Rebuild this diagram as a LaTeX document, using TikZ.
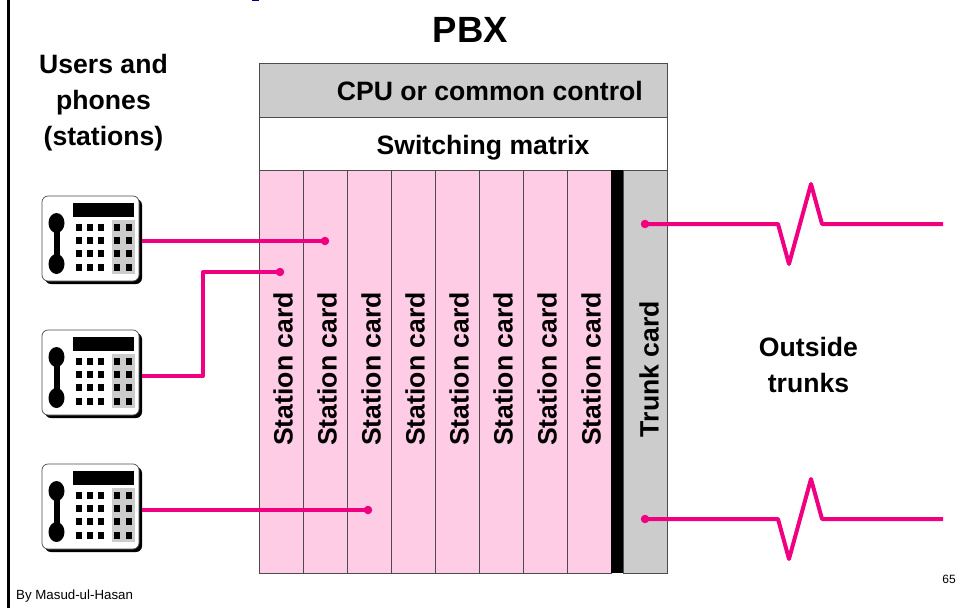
\documentclass[tikz,border=0pt]{standalone}
\usepackage{fontspec}
\setmainfont{Liberation Sans}
\definecolor{wire}{RGB}{240,0,128}
\definecolor{cardpink}{RGB}{255,204,230}
\definecolor{panel}{RGB}{204,204,204}
\tikzset{
  x=1pt,y=-1pt,
  box/.style={draw=black!70,line width=0.8pt,minimum width=0pt,inner sep=0pt},
  cardbox/.style={box,fill=cardpink,anchor=north west,minimum width=44pt,minimum height=403pt},
  cardlabel/.style={rotate=90,font=\bfseries\fontsize{26.6}{30}\selectfont,inner sep=0pt},
  title/.style={font=\bfseries\fontsize{26.6}{36}\selectfont,align=center,inner sep=0pt},
  wireline/.style={draw=wire,line width=4pt,line join=round},
  dot/.style={circle,fill=wire,minimum size=8.5pt,inner sep=0pt},
  key/.style={fill=black},
  phonebody/.style={draw=black!70,line width=0.7pt,fill=white,rounded corners=6pt},
  phone/.pic={
    \fill[black,rounded corners=6pt] (3,3) rectangle (100,88);
    \path[phonebody] (0,0) rectangle (97,85);
    \fill[black] (31,7) rectangle (92,21);
    \fill[panel] (70,24) rectangle (93,78);
    \foreach \ky in {28,41,54,68}{
      \foreach \kx in {34,45,56,72,84}{
        \path[key] (\kx,\ky) rectangle +(6,7);
      }
    }
    \fill[black] (14.5,27) ellipse [x radius=8,y radius=10];
    \fill[black] (14.5,68) ellipse [x radius=8,y radius=10];
    \fill[black] (11.5,30) rectangle (17.5,65);
  }
}
\begin{document}
\begin{tikzpicture}
\useasboundingbox (0,0) rectangle (956,608);
\fill[white] (0,0) rectangle (956,608);
\coordinate (railtop) at (8.5,0);
\coordinate (railbot) at (8.5,608);
\draw[black,line width=2.2pt] (railtop) -- (railbot);
\fill[blue!60!black] (252,0) rectangle (259,1.2);

\node[title,font=\bfseries\fontsize{36.5}{40}\selectfont] (pbx) at (470.5,30) {PBX};
\node[title] (users) at (103.5,103) {Users and\\phones\\(stations)};

\node[box,fill=panel,anchor=north west,minimum width=408pt,minimum height=54pt] (cpu) at (259,63) {};
\node[title,anchor=base east] (cpulabel) at (643,100) {CPU or common control};
\node[box,fill=white,anchor=north west,minimum width=408pt,minimum height=53pt] (matrix) at (259,117) {};
\node[title,anchor=base] (matrixlabel) at (483,154) {Switching matrix};

\foreach \i/\xx in {1/259,2/303,3/347,4/391,5/435,6/479,7/523,8/567}{
  \node[cardbox] (card\i) at (\xx,170) {};
  \node[cardlabel] (cardlabel\i) at ([shift={(24,199)}]card\i.north west) {Station card};
}
\node[fill=black,anchor=north west,minimum width=12pt,minimum height=403pt,inner sep=0pt] (bar) at (611,170) {};
\node[box,fill=panel,anchor=north west,minimum width=44pt,minimum height=403pt] (trunk) at (623,170) {};
\node[cardlabel] (trunklabel) at (649,369) {Trunk card};

\node[title] (outside) at (808.5,365) {Outside\\trunks};

\pic at (42,196) {phone};
\pic at (42,330) {phone};
\pic at (42,464) {phone};
\coordinate (p1) at (142,241);
\coordinate (p2) at (142,376);
\coordinate (p3) at (142,510);

\node[dot] (d1) at (325,241) {};
\node[dot] (d2) at (280,272) {};
\node[dot] (d3) at (368,510) {};
\node[dot] (t1) at (645,224) {};
\node[dot] (t2) at (645,519) {};
\coordinate (e1) at (943,224);
\coordinate (e2) at (943,519);

\draw[wireline] (p1) -- (d1.center);
\draw[wireline] (p2) -- (203,376) -- (203,272) -- (d2.center);
\draw[wireline] (p3) -- (d3.center);
\draw[wireline] (t1.center) -- (778,224) -- (789,264) -- (811,184) -- (822,224) -- (e1);
\draw[wireline] (t2.center) -- (778,519) -- (789,559) -- (811,479) -- (822,519) -- (e2);

\node[anchor=base west,font=\fontsize{13.3}{15}\selectfont,inner sep=0pt] (author) at (16,599) {By Masud-ul-Hasan};
\node[anchor=base east,font=\fontsize{12}{14}\selectfont,inner sep=0pt] (pagenum) at (956,583) {65};
\end{tikzpicture}
\end{document}
